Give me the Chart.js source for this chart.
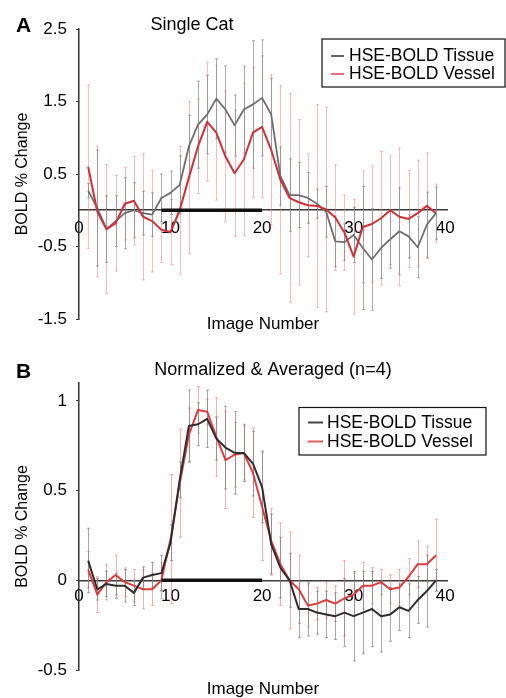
<!DOCTYPE html>
<html><head><meta charset="utf-8">
<script src="https://cdn.jsdelivr.net/npm/chart.js@4/dist/chart.umd.min.js"></script>
<style>
html,body{margin:0;padding:0;background:#fff;}
#wrap{position:relative;width:506px;height:698px;overflow:hidden;}
#ca{position:absolute;left:0;top:0;}
#cb{position:absolute;left:0;top:345px;}
</style></head><body>
<div id="wrap"><canvas id="ca" width="506" height="345"></canvas><canvas id="cb" width="506" height="353"></canvas></div>
<script>
// ---------- data ----------
const imageNumbers = [1,2,3,4,5,6,7,8,9,10,11,12,13,14,15,16,17,18,19,20,21,22,23,24,25,26,27,28,29,30,31,32,33,34,35,36,37,38,39];
const seriesLabels = ['HSE-BOLD Tissue', 'HSE-BOLD Vessel'];
const panelTitles = ['Single Cat', 'Normalized & Averaged (n=4)'];
const panelLetters = ['A', 'B'];
const xAxisTitle = 'Image Number';
const yAxisTitle = 'BOLD % Change';
const xTicks = [0, 10, 20, 30, 40];
const yTicksA = [-1.5, -0.5, 0.5, 1.5, 2.5];
const yTickLabelsA = ['-1.5', '-0.5', '0.5', '1.5', '2.5'];
const yTicksB = [-0.5, 0, 0.5, 1];
const yTickLabelsB = ['-0.5', '0', '0.5', '1'];
const stimulus = [9, 20];

// Panel A (single cat)
const tissueA = [0.27,0.03,-0.26,-0.15,-0.04,0.00,-0.04,-0.06,0.17,0.24,0.35,0.88,1.18,1.32,1.54,1.39,1.17,1.39,1.46,1.55,1.32,0.47,0.21,0.21,0.17,0.09,-0.02,-0.43,-0.44,-0.34,-0.52,-0.68,-0.52,-0.40,-0.29,-0.36,-0.51,-0.20,-0.04];
const tissueAErr = [0.10,0.80,0.46,0.35,0.49,0.38,0.30,0.30,0.33,0.30,0.40,0.43,0.60,0.54,0.55,0.60,0.42,0.60,0.88,0.80,0.50,0.40,0.50,0.45,0.35,0.20,0.35,0.35,0.25,0.38,0.85,0.70,0.42,0.40,0.60,0.30,0.42,0.45,0.36];
const vesselA = [0.60,-0.02,-0.26,-0.18,0.09,0.13,-0.09,-0.15,-0.27,-0.30,0.00,0.45,0.88,1.22,1.07,0.74,0.51,0.70,1.07,1.15,0.83,0.42,0.17,0.11,0.07,0.06,0.01,-0.10,-0.31,-0.64,-0.23,-0.19,-0.11,0.00,-0.09,-0.12,-0.04,0.06,-0.04];
const vesselAErr = [1.13,0.90,0.89,0.66,0.50,0.61,0.87,0.70,0.45,0.45,0.88,1.05,0.65,0.82,0.93,0.90,0.87,1.05,0.90,0.98,1.04,1.30,1.44,1.14,0.71,1.40,1.41,0.73,0.52,0.79,0.77,0.80,0.92,0.75,0.95,0.67,0.73,0.73,0.40];

// Panel B (normalized & averaged)
const tissueB = [0.11,-0.05,-0.02,-0.03,-0.03,-0.07,0.015,0.03,0.04,0.21,0.56,0.86,0.87,0.90,0.79,0.74,0.71,0.71,0.65,0.52,0.20,0.07,0.00,-0.16,-0.16,-0.18,-0.19,-0.20,-0.18,-0.20,-0.18,-0.16,-0.20,-0.19,-0.15,-0.17,-0.11,-0.06,0.00];
const tissueBErr = [0.18,0.06,0.07,0.07,0.09,0.07,0.06,0.07,0.10,0.10,0.10,0.20,0.12,0.16,0.12,0.23,0.23,0.16,0.18,0.20,0.17,0.17,0.15,0.16,0.15,0.12,0.13,0.13,0.19,0.25,0.23,0.21,0.20,0.15,0.13,0.15,0.13,0.20,0.06];
const vesselB = [0.06,-0.08,-0.01,0.03,-0.01,-0.03,-0.05,-0.05,0.00,0.23,0.54,0.81,0.95,0.94,0.80,0.67,0.70,0.71,0.60,0.41,0.22,0.09,0.00,-0.05,-0.14,-0.13,-0.11,-0.13,-0.10,-0.08,-0.03,-0.03,-0.01,-0.05,-0.04,0.02,0.09,0.09,0.14];
const vesselBErr = [0.10,0.10,0.10,0.11,0.08,0.09,0.11,0.09,0.10,0.36,0.30,0.15,0.13,0.07,0.22,0.27,0.18,0.15,0.25,0.30,0.18,0.23,0.27,0.19,0.12,0.09,0.10,0.10,0.21,0.12,0.13,0.10,0.07,0.08,0.10,0.10,0.13,0.10,0.20];

// ---------- rendering ----------
const FONT = "'Liberation Sans', Arial, Helvetica, sans-serif";
Chart.defaults.font.family = FONT;
Chart.defaults.color = '#000';

function toPoints(vals) { return imageNumbers.map((n, i) => ({ x: n, y: vals[i] })); }

const errorBarPlugin = {
  id: 'errorBars',
  beforeDatasetsDraw(chart) {
    const { ctx } = chart;
    const x = chart.scales.x, y = chart.scales.y;
    ctx.save();
    const list = chart.data.datasets.filter(d => d.errors).sort((a, b) => (b.errorOrder || 0) - (a.errorOrder || 0));
    list.forEach(ds => {
      ctx.strokeStyle = ds.errorColor;
      ctx.lineWidth = 1;
      ds.data.forEach((p, i) => {
        const e = ds.errors[i];
        const px = Math.round(x.getPixelForValue(p.x)) + 0.5;
        const yt = y.getPixelForValue(p.y + e);
        const yb = y.getPixelForValue(p.y - e);
        ctx.beginPath();
        ctx.moveTo(px, yt); ctx.lineTo(px, yb);
        ctx.moveTo(px - 1.5, yt); ctx.lineTo(px + 1.5, yt);
        ctx.moveTo(px - 1.5, yb); ctx.lineTo(px + 1.5, yb);
        ctx.stroke();
      });
    });
    ctx.restore();
  }
};

const decorPlugin = {
  id: 'decor',
  afterDraw(chart, args, o) {
    const ctx = chart.ctx;
    ctx.save();
    ctx.fillStyle = '#000';
    ctx.textAlign = 'left';
    ctx.textBaseline = 'alphabetic';
    ctx.font = 'bold 21px ' + FONT;
    ctx.fillText(o.letter, o.letterX, o.letterY);
    ctx.textAlign = 'center';
    ctx.font = '18px ' + FONT;
    ctx.fillText(o.title, o.titleX, o.titleY);
    // legend box
    const L = o.legend;
    ctx.fillStyle = '#fff';
    ctx.fillRect(L.x, L.y, L.w, L.h);
    ctx.strokeStyle = '#111';
    ctx.lineWidth = 1.2;
    ctx.strokeRect(L.x, L.y, L.w, L.h);
    ctx.font = L.fontSize + 'px ' + FONT;
    ctx.textAlign = 'left';
    ctx.textBaseline = 'middle';
    const items = chart.data.datasets.filter(d => d.legendColor).sort((a, b) => a.legendIndex - b.legendIndex);
    items.forEach((d, i) => {
      const yy = L.rowY[i];
      ctx.strokeStyle = d.legendColor;
      ctx.lineWidth = 2;
      ctx.beginPath();
      ctx.moveTo(L.lineX0, yy); ctx.lineTo(L.lineX1, yy);
      ctx.stroke();
      ctx.fillStyle = '#000';
      ctx.fillText(d.label, L.textX, yy + 0.5);
    });
    ctx.restore();
  }
};

function makeChart(canvasId, cfg) {
  return new Chart(document.getElementById(canvasId), {
    type: 'line',
    data: {
      datasets: [
        { label: 'stimulus', data: stimulus.map(v => ({ x: v, y: 0 })), borderColor: '#111', borderWidth: 3.5, pointRadius: 0, order: -1, borderCapStyle: 'butt' },
        { label: seriesLabels[0], data: toPoints(cfg.tissue), errors: cfg.tissueErr, errorColor: cfg.tissueErrColor, errorOrder: 0,
          borderColor: cfg.tissueColor, borderWidth: cfg.tissueWidth, pointRadius: 0, tension: 0, order: cfg.tissueOrder,
          legendColor: cfg.tissueLegend, legendIndex: 0, borderJoinStyle: 'round' },
        { label: seriesLabels[1], data: toPoints(cfg.vessel), errors: cfg.vesselErr, errorColor: cfg.vesselErrColor, errorOrder: 1,
          borderColor: cfg.vesselColor, borderWidth: cfg.vesselWidth, pointRadius: 0, tension: 0, order: cfg.vesselOrder,
          legendColor: cfg.vesselLegend, legendIndex: 1, borderJoinStyle: 'round' }
      ]
    },
    options: {
      responsive: false,
      animation: false,
      devicePixelRatio: 1,
      layout: { padding: { top: cfg.padTop, left: 0, right: 59, bottom: 0 } },
      plugins: {
        legend: { display: false },
        tooltip: { enabled: false },
        title: { display: false },
        decor: cfg.decor
      },
      scales: {
        x: {
          type: 'linear', min: 0, max: 40.2, position: { y: 0 },
          afterFit(s) { s.height = 0; },
          afterBuildTicks(s) { s.ticks = xTicks.map(v => ({ value: v })); },
          grid: { display: false, drawTicks: false },
          border: { display: true, color: '#3a3a3a', width: 1.6 },
          ticks: { font: { size: 17 }, padding: cfg.xTickPad, color: '#000', maxRotation: 0, autoSkip: false, callback: (v) => String(v) }
        },
        x2: {
          type: 'linear', position: 'bottom', min: 0, max: 1,
          afterFit(s) { s.height = cfg.bottomH; },
          grid: { display: false, drawTicks: false },
          border: { display: false },
          ticks: { display: false },
          title: { display: true, text: xAxisTitle, font: { size: 17, lineHeight: cfg.xTitleLH }, padding: { top: 0, bottom: cfg.xTitlePadB }, color: '#000' }
        },
        y: {
          type: 'linear', position: 'left', min: cfg.yMin, max: cfg.yMax,
          afterFit(s) { s.width = 79; },
          afterBuildTicks(s) { s.ticks = cfg.yTicks.map(v => ({ value: v })); },
          grid: { display: true, drawOnChartArea: false, drawTicks: true, tickLength: 3, color: '#333', lineWidth: 1 },
          border: { display: true, color: '#333', width: 1.5 },
          ticks: { font: { size: 17 }, padding: 9, color: '#000', autoSkip: false, callback: (v, i) => cfg.yTickLabels[i] },
          title: { display: true, text: yAxisTitle, font: { size: 16 }, padding: { top: 13, bottom: 0 }, color: '#000' }
        }
      }
    },
    plugins: [errorBarPlugin, decorPlugin]
  });
}

makeChart('ca', {
  tissue: tissueA, tissueErr: tissueAErr, vessel: vesselA, vesselErr: vesselAErr,
  tissueColor: 'rgb(110,110,110)', tissueWidth: 1.8, tissueOrder: 1, tissueErrColor: 'rgba(120,120,120,0.6)', tissueLegend: 'rgb(100,100,100)',
  vesselColor: 'rgb(205,50,55)', vesselWidth: 2, vesselOrder: 0, vesselErrColor: 'rgba(238,120,120,0.5)', vesselLegend: 'rgb(232,110,120)',
  yMin: -1.5, yMax: 2.5, yTicks: yTicksA, yTickLabels: yTickLabelsA,
  padTop: 29, bottomH: 26, xTitleLH: 1.2, xTitlePadB: 10, xTickPad: 8,
  decor: {
    letter: panelLetters[0], letterX: 16, letterY: 32,
    title: panelTitles[0], titleX: 192, titleY: 30,
    legend: { x: 322, y: 39, w: 183, h: 48, rowY: [56, 74], lineX0: 331, lineX1: 344, textX: 349, fontSize: 17.5 }
  }
});

makeChart('cb', {
  tissue: tissueB, tissueErr: tissueBErr, vessel: vesselB, vesselErr: vesselBErr,
  tissueColor: 'rgb(45,45,45)', tissueWidth: 2, tissueOrder: 0, tissueErrColor: 'rgba(110,110,110,0.6)', tissueLegend: 'rgb(70,70,70)',
  vesselColor: 'rgb(220,60,60)', vesselWidth: 2, vesselOrder: 1, vesselErrColor: 'rgba(238,110,110,0.55)', vesselLegend: 'rgb(225,90,90)',
  yMin: -0.5, yMax: 1.1, yTicks: yTicksB, yTickLabels: yTickLabelsB,
  padTop: 38, bottomH: 28, xTitleLH: 1.0, xTitlePadB: 0, xTickPad: 6,
  decor: {
    letter: panelLetters[1], letterX: 16, letterY: 33,
    title: panelTitles[1], titleX: 273, titleY: 30,
    legend: { x: 299, y: 62.5, w: 187, h: 47.5, rowY: [77.5, 96.5], lineX0: 308, lineX1: 323, textX: 327, fontSize: 17.5 }
  }
});
</script>
</body></html>
